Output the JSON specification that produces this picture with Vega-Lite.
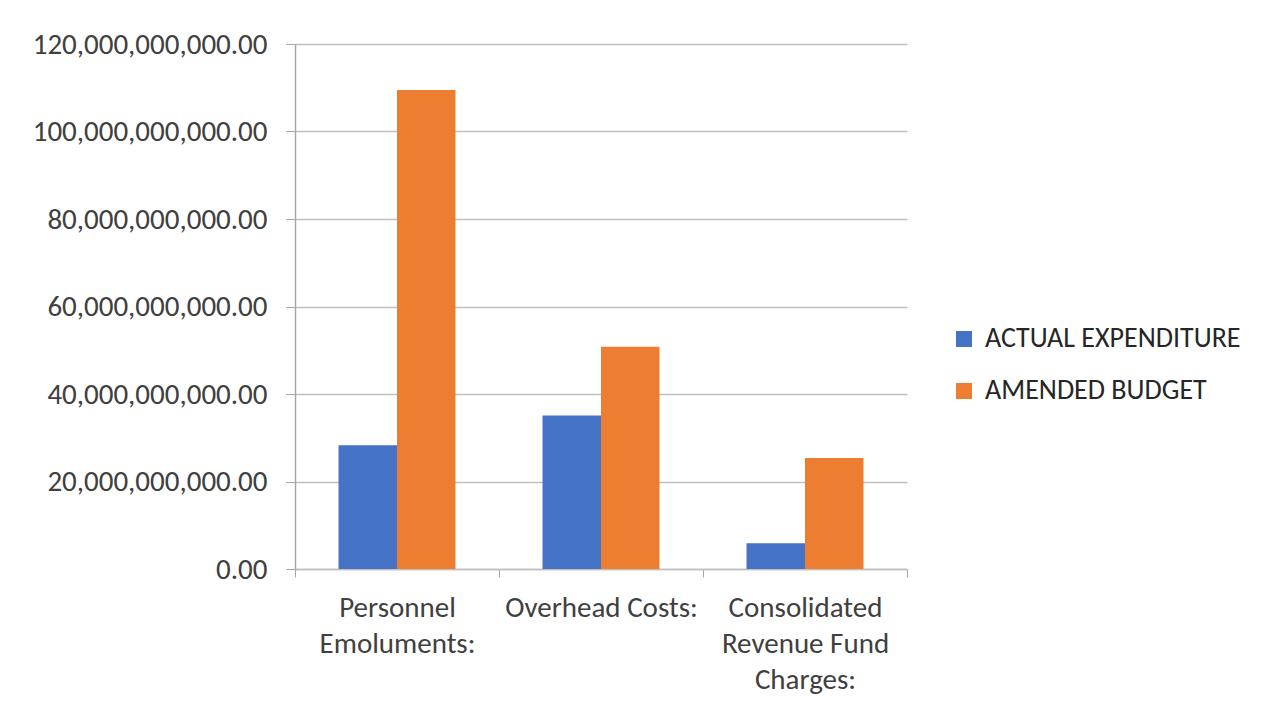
{
  "$schema": "https://vega.github.io/schema/vega-lite/v6.json",
  "width": 612,
  "height": 525,
  "autosize": {"type": "none"},
  "padding": {"left": 295, "top": 44, "right": 369, "bottom": 140},
  "background": "white",
  "data": {
    "values": [
      {"category": "Personnel Emoluments:", "series": "ACTUAL EXPENDITURE", "value": 28300000000},
      {"category": "Personnel Emoluments:", "series": "AMENDED BUDGET", "value": 109500000000},
      {"category": "Overhead Costs:", "series": "ACTUAL EXPENDITURE", "value": 35100000000},
      {"category": "Overhead Costs:", "series": "AMENDED BUDGET", "value": 50800000000},
      {"category": "Consolidated Revenue Fund Charges:", "series": "ACTUAL EXPENDITURE", "value": 5900000000},
      {"category": "Consolidated Revenue Fund Charges:", "series": "AMENDED BUDGET", "value": 25400000000}
    ]
  },
  "mark": {"type": "bar"},
  "encoding": {
    "x": {
      "field": "category",
      "type": "nominal",
      "sort": null,
      "scale": {"paddingInner": 0, "paddingOuter": 0},
      "axis": {
        "title": null,
        "labelAngle": 0,
        "tickBand": "extent",
        "tickSize": 8,
        "tickColor": "#A6A6A6",
        "domainColor": "#BFBFBF",
        "domainWidth": 1.5,
        "labelPadding": 16,
        "labelBaseline": "top",
        "labelLineHeight": 36,
        "labelFontSize": 29,
        "labelColor": "#404040",
        "labelFont": "Carlito, Lato, sans-serif",
        "labelLimit": 300,
        "labelExpr": "datum.value == 'Personnel Emoluments:' ? ['Personnel', 'Emoluments:'] : datum.value == 'Consolidated Revenue Fund Charges:' ? ['Consolidated', 'Revenue Fund', 'Charges:'] : datum.value"
      }
    },
    "xOffset": {"field": "series", "type": "nominal", "scale": {"paddingInner": 0, "paddingOuter": 0.744}},
    "y": {
      "field": "value",
      "type": "quantitative",
      "scale": {"domain": [0, 120000000000], "nice": false},
      "axis": {
        "title": null,
        "values": [0, 20000000000, 40000000000, 60000000000, 80000000000, 100000000000, 120000000000],
        "format": ",.2f",
        "tickSize": 9,
        "tickColor": "#A6A6A6",
        "domainColor": "#A6A6A6",
        "domainWidth": 1.5,
        "gridColor": "#BFBFBF",
        "gridWidth": 1.5,
        "labelPadding": 19,
        "labelFontSize": 29,
        "labelColor": "#404040",
        "labelFont": "Carlito, Lato, sans-serif",
        "labelLimit": 400
      }
    },
    "color": {
      "field": "series",
      "type": "nominal",
      "scale": {"domain": ["ACTUAL EXPENDITURE", "AMENDED BUDGET"], "range": ["#4472C4", "#ED7D31"]},
      "legend": {
        "title": null,
        "orient": "none",
        "legendX": 655,
        "legendY": 281,
        "symbolType": "square",
        "symbolSize": 256,
        "symbolStrokeWidth": 0,
        "symbolOpacity": 1,
        "labelFontSize": 28,
        "labelColor": "#262626",
        "labelFont": "Carlito, Lato, sans-serif",
        "labelLimit": 400,
        "rowPadding": 24,
        "labelOffset": 7
      }
    }
  },
  "config": {
    "view": {"stroke": null},
    "axis": {"gridColor": "#BFBFBF"}
  }
}
